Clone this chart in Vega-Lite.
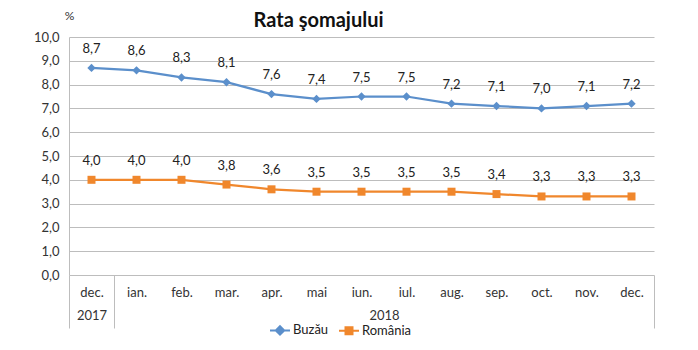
{
  "$schema": "https://vega.github.io/schema/vega-lite/v6.json",
  "width": 585,
  "height": 238,
  "autosize": "none",
  "padding": {"left": 69, "top": 37, "right": 44, "bottom": 75},
  "background": "white",
  "config": {
    "font": "Lato",
    "locale": {"number": {"decimal": ",", "thousands": ".", "grouping": [3], "currency": ["", ""]}},
    "view": {"stroke": null},
    "axis": {"labelFont": "Lato", "labelFontSize": 13, "labelColor": "#333333", "gridColor": "#BDBDBD", "domainColor": "#BDBDBD", "tickColor": "#BDBDBD"}
  },
  "title": {"text": "Rata şomajului", "fontSize": 20, "fontWeight": "bold", "font": "Lato", "color": "#111111", "anchor": "middle", "dx": -43, "offset": -22},
  "layer": [
    {
      "data": {"values": [
        {"k": 0, "series": "Buzău", "value": 8.7},
        {"k": 1, "series": "Buzău", "value": 8.6},
        {"k": 2, "series": "Buzău", "value": 8.3},
        {"k": 3, "series": "Buzău", "value": 8.1},
        {"k": 4, "series": "Buzău", "value": 7.6},
        {"k": 5, "series": "Buzău", "value": 7.4},
        {"k": 6, "series": "Buzău", "value": 7.5},
        {"k": 7, "series": "Buzău", "value": 7.5},
        {"k": 8, "series": "Buzău", "value": 7.2},
        {"k": 9, "series": "Buzău", "value": 7.1},
        {"k": 10, "series": "Buzău", "value": 7.0},
        {"k": 11, "series": "Buzău", "value": 7.1},
        {"k": 12, "series": "Buzău", "value": 7.2},
        {"k": 0, "series": "România", "value": 4.0},
        {"k": 1, "series": "România", "value": 4.0},
        {"k": 2, "series": "România", "value": 4.0},
        {"k": 3, "series": "România", "value": 3.8},
        {"k": 4, "series": "România", "value": 3.6},
        {"k": 5, "series": "România", "value": 3.5},
        {"k": 6, "series": "România", "value": 3.5},
        {"k": 7, "series": "România", "value": 3.5},
        {"k": 8, "series": "România", "value": 3.5},
        {"k": 9, "series": "România", "value": 3.4},
        {"k": 10, "series": "România", "value": 3.3},
        {"k": 11, "series": "România", "value": 3.3},
        {"k": 12, "series": "România", "value": 3.3}
      ]},
      "encoding": {
        "x": {"field": "k", "type": "ordinal", "scale": {"paddingInner": 0, "paddingOuter": 0.5},
          "axis": {"title": null, "labelAngle": 0, "ticks": false, "domain": false, "labelPadding": 11,
            "labelExpr": "['dec.','ian.','feb.','mar.','apr.','mai','iun.','iul.','aug.','sep.','oct.','nov.','dec.'][datum.value]"}},
        "y": {"field": "value", "type": "quantitative", "scale": {"domain": [0, 10], "nice": false},
          "axis": {"values": [0,1,2,3,4,5,6,7,8,9,10], "format": ".1f", "ticks": false, "domain": true, "labelPadding": 10,
            "title": "%", "titleAngle": 0, "titleX": 0, "titleY": -22, "titleAlign": "center", "titleBaseline": "middle", "titleFontWeight": "normal", "titleFontSize": 12, "titleColor": "#333333"}},
        "color": {"field": "series", "type": "nominal", "scale": {"domain": ["Buzău", "România"], "range": ["#5B8FCB", "#F0872C"]}, "legend": null}
      },
      "layer": [
        {"mark": {"type": "line", "strokeWidth": 2.25},
         "encoding": {"color": {"field": "series", "type": "nominal", "scale": {"domain": ["Buzău", "România"], "range": ["#5B8FCB", "#F0872C"]},
           "legend": {"title": null, "orient": "none", "direction": "horizontal", "legendX": 200, "legendY": 282, "labelFontSize": 13, "labelFont": "Lato", "labelColor": "#222222", "symbolSize": 400, "symbolStrokeWidth": 2, "labelOffset": 2, "columnPadding": 6,
             "encode": {"symbols": {"update": {
               "shape": {"signal": "datum.value === 'Buzău' ? 'M-1,0L1,0M0,-0.42L0.42,0L0,0.42L-0.42,0Z' : 'M-1,0L1,0M-0.35,-0.35L0.35,-0.35L0.35,0.35L-0.35,0.35Z'"},
               "fill": {"signal": "datum.value === 'Buzău' ? '#5B8FCB' : '#F0872C'"},
               "stroke": {"signal": "datum.value === 'Buzău' ? '#5B8FCB' : '#F0872C'"},
               "strokeWidth": {"value": 2},
               "size": {"value": 400}
             }}}}}}},
        {"transform": [{"filter": "datum.series === 'Buzău'"}],
         "mark": {"type": "point", "filled": true, "opacity": 1, "shape": "diamond", "size": 70}},
        {"transform": [{"filter": "datum.series === 'România'"}],
         "mark": {"type": "point", "filled": true, "opacity": 1, "shape": "square", "size": 64}},
        {"mark": {"type": "text", "dy": -19, "fontSize": 13, "font": "Lato", "color": "#222222"},
         "encoding": {"text": {"field": "value", "type": "quantitative", "format": ".1f"}, "color": {"value": "#222222"}}}
      ]
    },
    {
      "data": {"values": [{"pos": 0.5, "year": "2017"}, {"pos": 7, "year": "2018"}]},
      "mark": {"type": "point", "opacity": 0},
      "encoding": {
        "x": {"field": "pos", "type": "quantitative", "scale": {"domain": [0, 13], "nice": false, "zero": false},
          "axis": {"orient": "bottom", "values": [0.5, 7], "title": null, "grid": false, "domain": false, "ticks": false, "labelPadding": 34,
            "labelExpr": "datum.value < 1 ? '2017' : '2018'"}}
      }
    },
    {
      "data": {"values": [{"pos": 0}, {"pos": 1}, {"pos": 13}]},
      "mark": {"type": "point", "opacity": 0},
      "encoding": {
        "x": {"field": "pos", "type": "quantitative", "scale": {"domain": [0, 13], "nice": false, "zero": false},
          "axis": {"orient": "bottom", "values": [0, 1, 13], "title": null, "grid": false, "domain": false, "ticks": true, "tickSize": 53, "tickColor": "#BDBDBD", "labels": false}}
      }
    }
  ],
  "resolve": {"scale": {"x": "independent"}, "axis": {"x": "independent"}}
}
